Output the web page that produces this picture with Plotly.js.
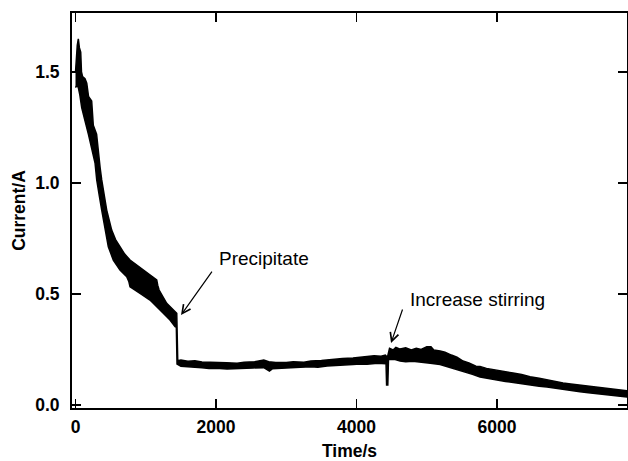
<!DOCTYPE html>
<html>
<head>
<meta charset="utf-8">
<script src="https://cdn.plot.ly/plotly-3.0.1.min.js"></script>
<style>html,body{margin:0;padding:0;background:#fff;}#chart{width:628px;height:461px;}</style>
</head>
<body>
<div id="chart"></div>
<script>
// Upper envelope of the noisy current trace (time in s, current in A)
const timeUpper = [0,10,25,40,55,74,85,100,135,160,185,230,253,300,325,350,373,444,515,570,633,700,776,870,965,1060,1156,1170,1190,1298,1370,1441,1455,1500,1600,1700,1800,1900,2000,2150,2300,2400,2550,2680,2750,2850,3000,3100,3250,3350,3500,3580,3700,3800,3950,4050,4150,4250,4350,4410,4440,4470,4520,4560,4620,4700,4780,4850,4920,5000,5060,5100,5190,5260,5350,5430,5516,5600,5700,5758,5850,6000,6100,6228,6350,6470,6600,6712,6820,6940,7050,7181,7300,7423,7550,7651,7750,7850];
const currentUpper = [1.50,1.58,1.62,1.65,1.61,1.59,1.50,1.48,1.47,1.45,1.39,1.37,1.26,1.22,1.13,1.07,1.014,0.878,0.788,0.745,0.713,0.68,0.653,0.63,0.608,0.585,0.563,0.54,0.518,0.458,0.435,0.413,0.20,0.203,0.197,0.199,0.194,0.192,0.190,0.190,0.188,0.193,0.195,0.203,0.195,0.192,0.191,0.195,0.193,0.198,0.200,0.203,0.206,0.210,0.212,0.216,0.219,0.222,0.220,0.225,0.215,0.255,0.248,0.260,0.252,0.258,0.248,0.256,0.250,0.262,0.262,0.248,0.243,0.238,0.225,0.215,0.198,0.190,0.175,0.174,0.165,0.158,0.152,0.144,0.137,0.127,0.121,0.113,0.106,0.099,0.095,0.090,0.085,0.081,0.076,0.072,0.068,0.064];
// Lower envelope
const timeLower = [0,20,40,60,88,135,183,230,278,302,340,373,420,467,538,633,729,760,776,918,1060,1203,1345,1417,1435,1445,1500,1600,1700,1800,1900,2000,2157,2300,2400,2527,2680,2760,2800,2950,3096,3200,3350,3450,3580,3700,3800,3950,4050,4150,4300,4420,4428,4445,4455,4550,4620,4700,4800,4904,5000,5050,5189,5270,5350,5430,5516,5650,5758,5880,6000,6120,6228,6350,6470,6600,6712,6820,6940,7060,7181,7300,7423,7540,7651,7750,7850];
const currentLower = [1.43,1.44,1.43,1.40,1.34,1.28,1.22,1.16,1.09,1.014,0.94,0.878,0.788,0.713,0.653,0.608,0.578,0.555,0.533,0.503,0.473,0.428,0.383,0.353,0.35,0.185,0.175,0.172,0.171,0.168,0.165,0.166,0.162,0.164,0.166,0.167,0.168,0.153,0.163,0.166,0.168,0.170,0.172,0.170,0.176,0.178,0.180,0.182,0.185,0.184,0.188,0.186,0.09,0.09,0.205,0.205,0.198,0.195,0.197,0.192,0.190,0.188,0.182,0.175,0.165,0.158,0.150,0.138,0.126,0.120,0.113,0.106,0.099,0.094,0.090,0.085,0.081,0.076,0.072,0.066,0.060,0.055,0.050,0.046,0.042,0.039,0.036];

const xTickVals = [0,2000,4000,6000];
const yTickVals = [0.0,0.5,1.0,1.5];
const yTickText = ['0.0','0.5','1.0','1.5'];

// Closed band: upper forward, lower reversed
const bandX = timeUpper.concat(timeLower.slice().reverse());
const bandY = currentUpper.concat(currentLower.slice().reverse());

const trace = {
  x: bandX, y: bandY, type: 'scatter', mode: 'lines',
  fill: 'toself', fillcolor: '#000',
  line: {color: '#000', width: 1.5},
  hoverinfo: 'skip', showlegend: false
};

const tickFont = {family: 'Liberation Sans, Arial, sans-serif', size: 17.5, color: '#000', weight: 'bold'};
const titleFont = {family: 'Liberation Sans, Arial, sans-serif', size: 17.5, color: '#000', weight: 'bold'};
const annFont = {family: 'Liberation Sans, Arial, sans-serif', size: 19, color: '#000'};

const layout = {
  width: 628, height: 461,
  margin: {l: 72, r: 1, t: 13, b: 53},
  paper_bgcolor: '#fff', plot_bgcolor: '#fff',
  showlegend: false,
  xaxis: {
    range: [-50, 7850], tickvals: xTickVals, ticks: 'inside', ticklen: 9, tickwidth: 1.5, tickcolor: '#000',
    showline: true, linecolor: '#000', linewidth: 2, mirror: 'ticks', showgrid: false, zeroline: false,
    tickfont: tickFont, ticklabelstandoff: 2,
    title: {text: 'Time/s', font: titleFont, standoff: 10}
  },
  yaxis: {
    range: [-0.0135, 1.766], tickvals: yTickVals, ticktext: yTickText, ticks: 'inside', ticklen: 9, tickwidth: 1.5, tickcolor: '#000',
    showline: true, linecolor: '#000', linewidth: 2, mirror: 'ticks', showgrid: false, zeroline: false,
    tickfont: tickFont, ticklabelstandoff: 7,
    title: {text: 'Current/A', font: titleFont, standoff: 5}
  },
  annotations: [
    {x: 1502, y: 0.405, ax: 1957, ay: 0.608, xref: 'x', yref: 'y', axref: 'x', ayref: 'y', text: '', showarrow: true, arrowhead: 5, arrowsize: 1.4, arrowwidth: 1.2, arrowcolor: '#000'},
    {x: 4491, y: 0.279, ax: 4662, ay: 0.437, xref: 'x', yref: 'y', axref: 'x', ayref: 'y', text: '', showarrow: true, arrowhead: 5, arrowsize: 1.4, arrowwidth: 1.2, arrowcolor: '#000'},
    {x: 2015, y: 0.658, xref: 'x', yref: 'y', text: 'Precipitate', showarrow: false, xanchor: 'left', yanchor: 'middle', font: annFont},
    {x: 4735, y: 0.477, xref: 'x', yref: 'y', text: 'Increase stirring', showarrow: false, xanchor: 'left', yanchor: 'middle', font: annFont}
  ]
};

Plotly.newPlot('chart', [trace], layout, {staticPlot: true, displayModeBar: false});
</script>
</body>
</html>
